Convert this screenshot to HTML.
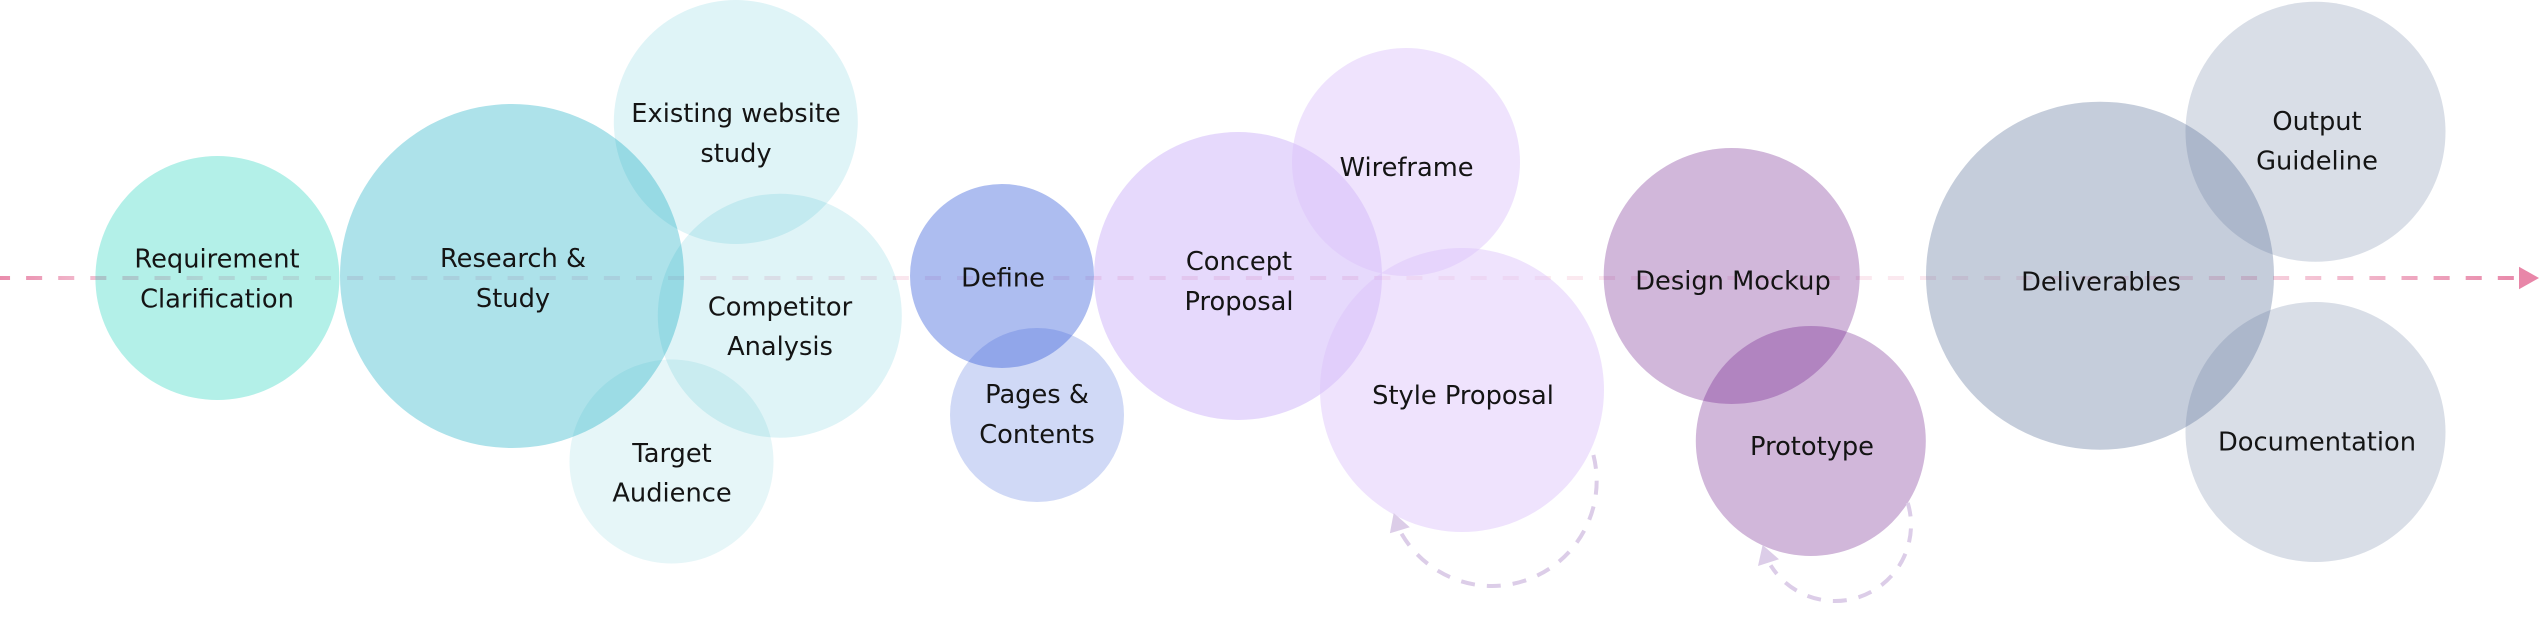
<!DOCTYPE html>
<html>
<head>
<meta charset="utf-8">
<style>
  html, body { margin: 0; padding: 0; background: #ffffff; width: 2539px; height: 618px; overflow: hidden; }
  svg { display: block; }
  text { font-family: "DejaVu Sans", "Liberation Sans", sans-serif; font-size: 25.7px; fill: #141414; text-anchor: middle; }
</style>
</head>
<body>
<svg width="2539" height="618" viewBox="0 0 2539 618" xmlns="http://www.w3.org/2000/svg">
  <defs>
    <linearGradient id="lineGrad" gradientUnits="userSpaceOnUse" x1="0" y1="0" x2="2539" y2="0">
      <stop offset="0" stop-color="#e886a8" stop-opacity="0.95"/>
      <stop offset="0.0134" stop-color="#e886a8" stop-opacity="0.83"/>
      <stop offset="0.026" stop-color="#e886a8" stop-opacity="0.65"/>
      <stop offset="0.0386" stop-color="#e886a8" stop-opacity="0.53"/>
      <stop offset="0.0788" stop-color="#e886a8" stop-opacity="0.32"/>
      <stop offset="0.1575" stop-color="#e886a8" stop-opacity="0.22"/>
      <stop offset="0.59" stop-color="#e886a8" stop-opacity="0.18"/>
      <stop offset="0.748" stop-color="#e886a8" stop-opacity="0.18"/>
      <stop offset="0.8468" stop-color="#e886a8" stop-opacity="0.26"/>
      <stop offset="0.8988" stop-color="#e886a8" stop-opacity="0.42"/>
      <stop offset="0.9874" stop-color="#e886a8" stop-opacity="0.95"/>
      <stop offset="1" stop-color="#e886a8" stop-opacity="1"/>
    </linearGradient>
  </defs>

  <!-- main dashed timeline -->
  <path d="M -6 278 L 2519 278" stroke="url(#lineGrad)" stroke-width="4" stroke-dasharray="16.05 16.05" fill="none"/>
  <polygon points="2519,266.7 2539,278 2519,289.3" fill="#e886a8"/>

  <!-- teal family -->
  <circle cx="217.4" cy="278" r="122" fill="rgba(2,205,178,0.3)"/>
  <circle cx="512" cy="276" r="172" fill="rgba(7,167,191,0.33)"/>
  <circle cx="735.8" cy="122" r="122" fill="rgba(7,167,191,0.13)"/>
  <circle cx="779.8" cy="315.7" r="122" fill="rgba(7,167,191,0.13)"/>
  <circle cx="671.5" cy="461.5" r="102" fill="rgba(7,167,191,0.1)"/>

  <!-- blue family -->
  <circle cx="1002" cy="276" r="92" fill="rgba(50,90,218,0.4)"/>
  <circle cx="1037" cy="415" r="87" fill="rgba(50,90,218,0.23)"/>

  <!-- lavender family -->
  <circle cx="1238" cy="276" r="144" fill="rgba(130,65,240,0.2)"/>
  <circle cx="1406" cy="162" r="114" fill="rgba(219,192,251,0.45)"/>
  <circle cx="1462" cy="390" r="142" fill="rgba(219,192,251,0.45)"/>

  <!-- purple family -->
  <circle cx="1731.7" cy="276" r="128" fill="rgba(102,18,132,0.3)"/>
  <circle cx="1810.8" cy="441" r="115" fill="rgba(102,18,132,0.3)"/>

  <!-- slate family -->
  <circle cx="2100" cy="275.7" r="174" fill="rgba(89,112,152,0.35)"/>
  <circle cx="2315.5" cy="131.8" r="130" fill="rgba(89,112,152,0.23)"/>
  <circle cx="2315.5" cy="432" r="130" fill="rgba(89,112,152,0.23)"/>

  <!-- self loops -->
  <path d="M 1593.4 455 A 105 105 0 0 1 1492 586 A 105 105 0 0 1 1400 531" stroke="#dccde8" stroke-width="4" stroke-dasharray="14 12" fill="none"/>
  <polygon points="1393.7,513 1389.9,533.3 1409.8,527.3" fill="#dccde8"/>
  <path d="M 1907.7 502.8 A 76 76 0 0 1 1835 601 A 76 76 0 0 1 1770.6 565.3" stroke="#dccde8" stroke-width="4" stroke-dasharray="14 12" fill="none"/>
  <polygon points="1762.6,545 1758,566 1779,559.3" fill="#dccde8"/>

  <!-- labels -->
  <text x="217" y="267.3">Requirement</text>
  <text x="217" y="307.3">Clarification</text>

  <text x="513" y="267">Research &amp;</text>
  <text x="513" y="307">Study</text>

  <text x="736" y="122">Existing website</text>
  <text x="736" y="162">study</text>

  <text x="780" y="315.5">Competitor</text>
  <text x="780" y="355">Analysis</text>

  <text x="672" y="462">Target</text>
  <text x="672" y="501.5">Audience</text>

  <text x="1003" y="286.5">Define</text>

  <text x="1037" y="403">Pages &amp;</text>
  <text x="1037" y="443">Contents</text>

  <text x="1239" y="270">Concept</text>
  <text x="1239" y="310">Proposal</text>

  <text x="1406.6" y="176.2">Wireframe</text>

  <text x="1463" y="404">Style Proposal</text>

  <text x="1733" y="289.7">Design Mockup</text>

  <text x="1812" y="455">Prototype</text>

  <text x="2101" y="290.5">Deliverables</text>

  <text x="2317" y="130">Output</text>
  <text x="2317" y="169.5">Guideline</text>

  <text x="2317" y="450.5">Documentation</text>
</svg>
</body>
</html>
